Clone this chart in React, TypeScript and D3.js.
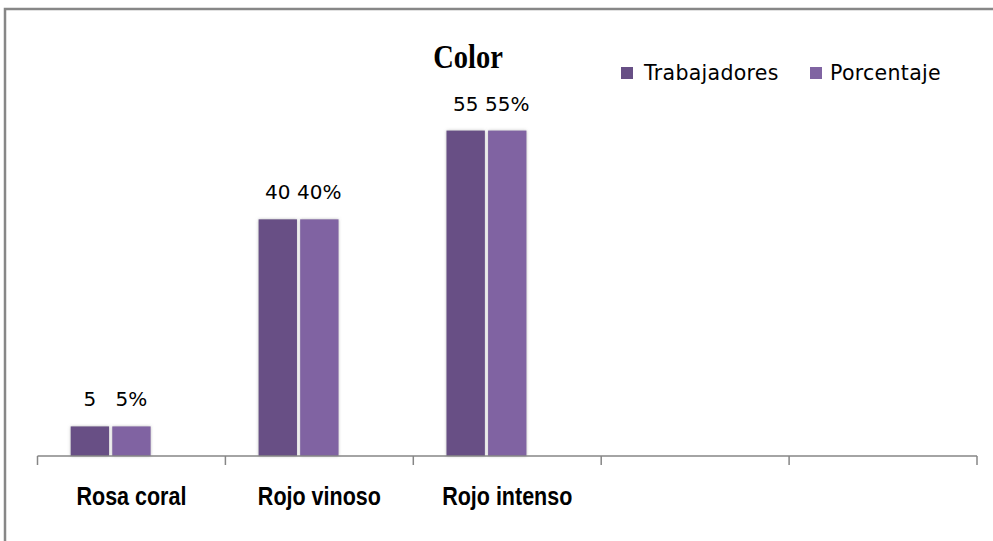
//@ts-nocheck
import * as d3 from "d3";
import React from "react";

// datos del gráfico
const categories = ["Rosa coral", "Rojo vinoso", "Rojo intenso"];
const emptySlots = ["vacio-1", "vacio-2"];
const series = ["Trabajadores", "Porcentaje"];
const trabajadores = [5, 40, 55];
const porcentaje = [5, 40, 55];
const colors = ["#674F85", "#8064A2"];

const width = 993;
const height = 541;

export default function App() {
  const x0 = d3
    .scaleBand()
    .domain([...categories, ...emptySlots])
    .range([37.5, 977])
    .paddingInner(0)
    .paddingOuter(0);

  // excel deja un hueco para una tercera serie vacía
  const x1 = d3
    .scaleBand()
    .domain([...series, "serie3"])
    .range([0, x0.bandwidth()])
    .paddingInner(0)
    .paddingOuter(0.76);

  const y = d3.scaleLinear().domain([0, 60]).range([456, 101]);

  const values = [trabajadores, porcentaje];
  const fmt = [(v) => `${v}`, (v) => `${v}%`];

  const tickXs = [...x0.domain().map((d) => x0(d)), x0.range()[1]];

  const valueFont = "'DejaVu Sans', sans-serif";

  return (
    <svg
      width={width}
      height={height}
      style={{ position: "absolute", left: 0, top: 0, background: "#fff" }}
    >
      <defs>
        <filter id="sombra" x="-20%" y="-20%" width="140%" height="140%">
          <feDropShadow dx="0" dy="0" stdDeviation="1.6" floodColor="#7f7f7f" floodOpacity="0.55" />
        </filter>
      </defs>

      <rect x={5} y={9} width={1100} height={700} fill="none" stroke="#878787" strokeWidth={2.5} />

      <text
        transform={`translate(468,68) scale(1,1.2)`}
        textAnchor="middle"
        fontFamily="'Liberation Serif', serif"
        fontWeight="bold"
        fontSize={28.5}
        fill="#000"
      >
        Color
      </text>

      {/* leyenda */}
      <g fontFamily={valueFont} fontSize={20.5} fill="#000">
        <rect x={621} y={67} width={12} height={12} fill={colors[0]} />
        <text x={644} y={80} letterSpacing={0.3}>{series[0]}</text>
        <rect x={810} y={67} width={12} height={12} fill={colors[1]} />
        <text x={830} y={80} letterSpacing={0.3}>{series[1]}</text>
      </g>

      {/* barras */}
      {categories.map((c, i) => (
        <g key={c} transform={`translate(${x0(c)},0)`}>
          {series.map((s, j) => {
            const v = values[j][i];
            return (
              <rect
                key={s}
                x={x1(s) + 1.6}
                y={y(v)}
                width={x1.bandwidth() - 3.2}
                height={y(0) - y(v)}
                fill={colors[j]}
                filter="url(#sombra)"
              />
            );
          })}
          {series.map((s, j) => {
            const v = values[j][i];
            return (
              <text
                key={s}
                x={x1(s) + x1.bandwidth() / 2}
                y={y(v) - 20}
                textAnchor="middle"
                fontFamily={valueFont}
                fontSize={20}
                fill="#000"
              >
                {fmt[j](v)}
              </text>
            );
          })}
        </g>
      ))}

      {/* eje */}
      <g stroke="#868686" strokeWidth={1.5}>
        <line x1={x0.range()[0]} x2={x0.range()[1]} y1={y(0)} y2={y(0)} />
        {tickXs.map((t, i) => (
          <line key={i} x1={t} x2={t} y1={y(0)} y2={y(0) + 9} />
        ))}
      </g>

      {categories.map((c) => (
        <text
          key={c}
          transform={`translate(${x0(c) + x0.bandwidth() / 2},505) scale(1,1.2)`}
          textAnchor="middle"
          fontFamily="'Liberation Sans', sans-serif"
          fontWeight="bold"
          fontSize={21.5}
          fill="#000"
        >
          {c}
        </text>
      ))}
    </svg>
  );
}
